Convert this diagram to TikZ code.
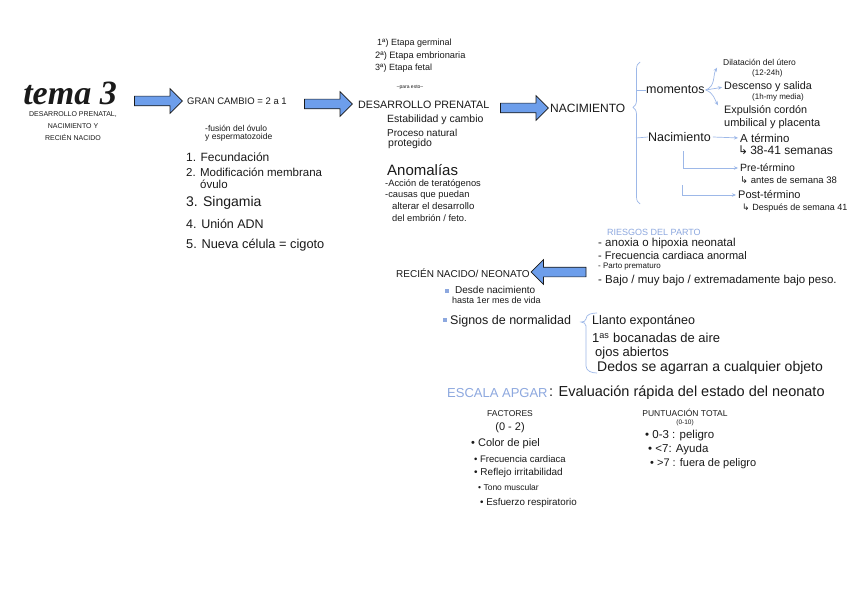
\documentclass[tikz,border=0pt]{standalone}
\usepackage{fontspec}
\setmainfont{Liberation Sans}
\newfontfamily\titlefont{Liberation Serif}
\newfontfamily\symfont{DejaVu Sans}
\usetikzlibrary{shapes.arrows,decorations.pathreplacing,arrows.meta}
\definecolor{arrowblue}{HTML}{6D9EEB}
\definecolor{lineblue}{HTML}{9DB8E8}
\definecolor{textblue}{HTML}{8DA8DF}
\definecolor{ink}{HTML}{1A1A1A}
\newcommand{\hk}{{\symfont ↳}}
\begin{document}
\begin{tikzpicture}[x=1pt,y=-1pt,
  t/.style={anchor=west,inner sep=0pt,text=ink,font=\fontsize{#1}{#1}\selectfont},
  tc/.style={anchor=center,inner sep=0pt,text=ink,font=\fontsize{#1}{#1}\selectfont},
  barrow/.style={single arrow,draw=ink,fill=arrowblue,line width=0.7pt,inner xsep=0pt,inner ysep=4.5pt,
     minimum height=#1,single arrow head extend=7.5pt},
  con/.style={draw=lineblue,line width=0.7pt},
  cona/.style={con,-{Stealth[length=4pt,width=3.5pt]},shorten >=2pt},
  bul/.style={fill=textblue,inner sep=0pt,minimum size=3.5pt}]
\fill[white] (0,0) rectangle (848,599);
\useasboundingbox (0,0) rectangle (848,599);

% title
\node[inner sep=0pt,text=ink,font=\titlefont\bfseries\itshape\fontsize{34}{34}\selectfont] (tema) at (70,93) {tema 3};
\node[tc=7] (s1) at (73,115) {DESARROLLO PRENATAL,};
\node[tc=7] (s2) at (73,126) {NACIMIENTO Y};
\node[tc=7] (s3) at (73,137) {RECIÉN NACIDO};

\node[barrow=48pt] (a1) at (156,101) {};
\node[t=9.5] (gran) at (187,101) {GRAN CAMBIO = 2 a 1};
\node[t=8.5] (f1) at (205,128) {-fusión del óvulo};
\node[t=8.5] (f2) at (205,137) {y espermatozoide};
\node[t=12] (l1) at (186,157) {1. Fecundación};
\node[t=11.5] (l2) at (186,172) {2. Modificación membrana};
\node[t=11.5] (l2b) at (200,184) {óvulo};
\node[t=14] (l3) at (186,203) {3. Singamia};
\node[t=12.5] (l4) at (186,224) {4. Unión ADN};
\node[t=12.8] (l5) at (186,245) {5. Nueva célula = cigoto};

\node[barrow=48pt] (a2) at (326,104) {};
\node[t=9] (e1) at (377,43) {1ª) Etapa germinal};
\node[t=9.3] (e2) at (375,56) {2ª) Etapa embrionaria};
\node[t=9] (e3) at (375,68) {3ª) Etapa fetal};
\node[tc=5] (pe) at (410,87) {–para esto–};
\node[t=10.7] (dp) at (358,105) {DESARROLLO PRENATAL};
\node[t=10.5] (d1) at (387,120) {Estabilidad y cambio};
\node[t=10] (d2) at (387,133) {Proceso natural};
\node[t=10.5] (d3) at (388,144) {protegido};
\node[t=15] (an) at (387,170) {Anomalías};
\node[t=9.3] (an1) at (385,184) {-Acción de teratógenos};
\node[t=9.3] (an2) at (385,195) {-causas que puedan};
\node[t=9.6] (an3) at (392,206) {alterar el desarrollo};
\node[t=9.3] (an4) at (392,218) {del embrión / feto.};

\node[barrow=48pt] (a3) at (522,108) {};
\node[t=12] (nac) at (550,108) {NACIMIENTO};
\draw[con,decorate,decoration={brace,amplitude=7pt,aspect=0.68}] (640,204) -- (640,62);
\coordinate (b1) at (636,90);
\coordinate (b2) at (636,138);
\node[t=12.5] (mom) at (646,90) {momentos};
\node[t=12.5] (nac2) at (648,137) {Nacimiento};
\draw[con] (b1) -- (mom.west);
\draw[con] (b2) -- (nac2.west);
\node[t=8.5] (dil) at (723,62) {Dilatación del útero};
\node[t=8] (dil2) at (752,73) {(12-24h)};
\node[t=10.8] (desc) at (724,87) {Descenso y salida};
\node[t=8] (desc2) at (752,97) {(1h-my media)};
\node[t=10.8] (exp) at (724,111) {Expulsión cordón};
\node[t=11] (exp2) at (724,124) {umbilical y placenta};
\draw[cona] ([xshift=1pt]mom.east) to[out=20,in=240] (718,66);
\draw[cona] ([xshift=1pt]mom.east) -- (desc.west);
\draw[cona] ([xshift=1pt]mom.east) to[out=-20,in=120] (719,107);
\node[t=11.5] (at) at (740,138) {A término};
\node[t=12] (at2) at (738,150) {\hk\,38-41 semanas};
\node[t=10.5] (pre) at (740,168) {Pre-término};
\node[t=9.5] (pre2) at (740,180) {\hk\ antes de semana 38};
\node[t=11] (post) at (738,195) {Post-término};
\node[t=9] (post2) at (742,208) {\hk\ Después de semana 41};
\draw[cona] ([xshift=2pt]nac2.east) -- (at.west);
\coordinate (p1) at (683,151);
\coordinate (p2) at (682,185);
\draw[cona] (p1) |- (pre.west);
\draw[cona] (p2) |- (post.west);

\node[t=9,text=textblue] (rg) at (607,232) {RIESGOS DEL PARTO};
\node[t=11.5] (r1) at (598,244) {- anoxia o hipoxia neonatal};
\node[t=11] (r2) at (598,256) {- Frecuencia cardiaca anormal};
\node[t=8] (r3) at (598,267) {- Parto prematuro};
\node[t=11.5] (r4) at (598,281) {- Bajo / muy bajo / extremadamente bajo peso.};

\node[barrow=55pt,shape border rotate=180] (a4) at (561,272) {};
\node[t=10] (rn) at (396,273) {RECIÉN NACIDO/ NEONATO};
\node[bul] (bu1) at (447,291) {};
\node[t=10] (rn1) at (455,290) {Desde nacimiento};
\node[t=9] (rn2) at (452,300) {hasta 1er mes de vida};
\node[bul] (bu2) at (445,320) {};
\node[t=12.5] (sig) at (450,321) {Signos de normalidad};
\draw[con] (597,313) to[out=180,in=90] (586,319) to[out=270,in=0] (581,322)
  to[out=0,in=90] (586,326) -- (586,366) to[out=270,in=180] (597,373);
\node[t=12.5] (s1n) at (592,321) {Llanto expontáneo};
\node[t=13] (s2n) at (592,338) {1\textsuperscript{as} bocanadas de aire};
\node[t=13] (s3n) at (595,353) {ojos abiertos};
\node[t=14] (s4n) at (597,368) {Dedos se agarran a cualquier objeto};

\node[t=13,text=textblue] (ap) at (447,393) {ESCALA APGAR};
\node[t=14.5] (ap2) at (549,393) {: Evaluación rápida del estado del neonato};
\node[tc=8.5] (fa) at (510,414) {FACTORES};
\node[tc=11] (fa2) at (510,428) {(0 - 2)};
\node[t=11] (fa3) at (471,444) {• Color de piel};
\node[t=9.5] (fa4) at (474,459) {• Frecuencia cardiaca};
\node[t=10] (fa5) at (474,473) {• Reflejo irritabilidad};
\node[t=8.5] (fa6) at (478,487) {• Tono muscular};
\node[t=9.8] (fa7) at (480,503) {• Esfuerzo respiratorio};
\node[tc=8.5] (pu) at (685,413) {PUNTUACIÓN TOTAL};
\node[tc=6.5] (pu2) at (685,423) {(0-10)};
\node[t=11.5] (pu3) at (645,436) {• 0-3 : peligro};
\node[t=11.5] (pu4) at (648,450) {• <7: Ayuda};
\node[t=11] (pu5) at (650,464) {• >7 : fuera de peligro};
\end{tikzpicture}
\end{document}
